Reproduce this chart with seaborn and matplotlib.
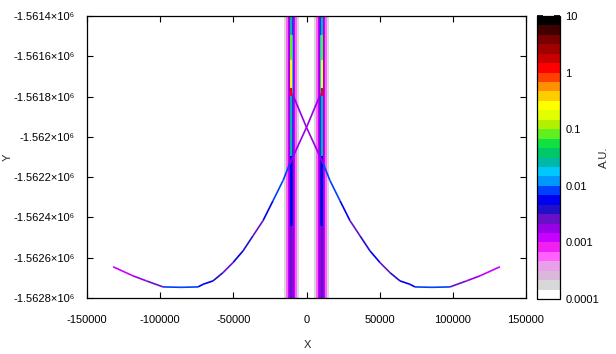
import numpy as np
import matplotlib
matplotlib.use("Agg")
import matplotlib.pyplot as plt
from matplotlib.colors import ListedColormap, LogNorm
from matplotlib.collections import LineCollection
from matplotlib.ticker import MultipleLocator, FuncFormatter
import matplotlib.cm as cm
import seaborn as sns

# colour steps, 0.0001 -> 10, six per decade
pal = ["#ffffff", "#d8d8d8", "#dab8da", "#e8a0e8", "#ff60ff", "#f020f0",
       "#c800ff", "#9800e8", "#6810c8", "#2010c8", "#0000f0", "#0040ff",
       "#0098ff", "#00c8ff", "#00b8a8", "#00c868", "#10e040", "#60f020",
       "#b0f000", "#e0ff00", "#ffff00", "#ffcc00", "#ff9000", "#ff4000",
       "#ff0000", "#c80000", "#a00000", "#780000", "#400000", "#000000"]

# the two vertical bands
band_x = [-10300, 10300]
band_y = [-1561400, -1561495, -1561619, -1561759, -1561799, -1562093, -1562441, -1562800]
band_core = [0.03, 0.08, 0.25, 1.0, 0.025, 0.006, 0.003]
band_inner = [0.008, 0.015, 0.02, 0.03, 0.008, 0.004, 0.002]
band_side = [0.00017, 0.0005, 0.0012, 0.002]  # outer -> inner
band_dx = [-5000, -3700, -2600, -1900, -1300, -650, 650, 1300, 1900, 2600, 3700, 5000]

# right-hand curve (left one is its mirror)
curve_x = [-9700, 0, 11480, 16050, 22880, 29710, 36540, 43370, 50200, 57030,
           63870, 70700, 74120, 85730, 98030, 109430, 118550, 132200]
curve_y = [-1561785, -1561953, -1562134, -1562217, -1562317, -1562416, -1562491,
           -1562566, -1562624, -1562674, -1562715, -1562732, -1562745, -1562747,
           -1562745, -1562715, -1562690, -1562645]
curve_lvl = [0.0015, 0.002, 0.008, 0.007, 0.005, 0.003, 0.004, 0.005, 0.003,
             0.004, 0.005, 0.006, 0.007, 0.007, 0.003, 0.002, 0.0013]

cbar_ticks = [0.0001, 0.001, 0.01, 0.1, 1, 10]
cbar_labels = ["0.0001", "0.001", "0.01", "0.1", "1", "10"]

sns.set_theme(style="white")
plt.rcParams["font.family"] = ["Liberation Sans", "DejaVu Sans"]
plt.rcParams["font.size"] = 8
plt.rcParams["xtick.labelsize"] = 8
plt.rcParams["ytick.labelsize"] = 8
plt.rcParams["axes.unicode_minus"] = False

cmap = ListedColormap(pal)
cmap.set_under("white")
norm = LogNorm(vmin=1e-4, vmax=10)

fig = plt.figure(figsize=(6.16, 3.54), dpi=100)
ax = fig.add_axes([87 / 616, 1 - 298 / 354, 439 / 616, 282 / 354])
cax = fig.add_axes([537 / 616, 1 - 299 / 354, 23 / 616, 283 / 354])

n = len(band_core)
cols = [np.full(n, s) for s in band_side] + [np.array(band_inner), np.array(band_core), np.array(band_inner)] \
    + [np.full(n, s) for s in band_side[::-1]]
C = np.column_stack(cols)
for bx in band_x:
    ax.pcolormesh(bx + np.array(band_dx), band_y, C, cmap=cmap, norm=norm, zorder=1)

for sgn in (1, -1):
    pts = np.column_stack([sgn * np.array(curve_x), curve_y])
    segs = np.stack([pts[:-1], pts[1:]], axis=1)
    lc = LineCollection(segs, colors=cmap(norm(curve_lvl)), linewidths=1.2, zorder=2)
    ax.add_collection(lc)

ax.set_xlim(-150000, 150000)
ax.set_ylim(-1562800, -1561400)
ax.xaxis.set_major_locator(MultipleLocator(50000))
ax.yaxis.set_major_locator(MultipleLocator(200))
ax.yaxis.set_major_formatter(FuncFormatter(lambda v, p: f"{v / 1e6:.5g}×10⁶"))
ax.tick_params(direction="in", length=4.5, width=0.8, top=True, right=True,
               bottom=True, left=True, colors="black", labelcolor="black")
ax.tick_params(axis="x", pad=12)
ax.tick_params(axis="y", pad=9)
for s in ax.spines.values():
    s.set_color("black")
    s.set_linewidth(0.9)

cb = fig.colorbar(cm.ScalarMappable(norm=norm, cmap=cmap), cax=cax)
cb.set_ticks(cbar_ticks, labels=cbar_labels)
cb.outline.set_edgecolor("black")
cb.outline.set_linewidth(0.9)
cax.minorticks_on()
cax.tick_params(which="both", direction="in", left=True, right=True,
                labelleft=False, labelright=True, colors="black", pad=4)
cax.tick_params(which="major", length=4)
cax.tick_params(which="minor", length=2)

fig.text(307 / 616, 1 - 345 / 354, "X", ha="center", va="center", fontsize=8)
fig.text(8 / 616, 1 - 157 / 354, "Y", ha="center", va="center", rotation=90, fontsize=8)
fig.text(604 / 616, 1 - 157 / 354, "A.U.", ha="center", va="center", rotation=90, fontsize=8)

fig.savefig("out.png", dpi=100)
